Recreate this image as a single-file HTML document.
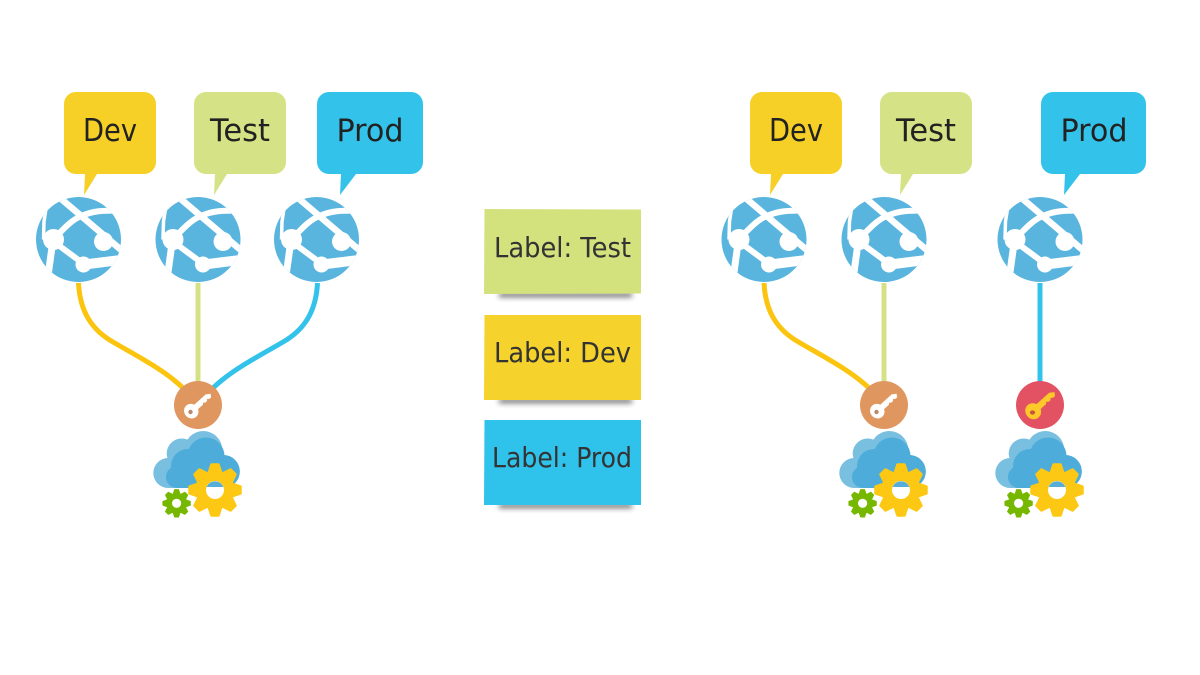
<!DOCTYPE html>
<html><head><meta charset="utf-8"><style>
html,body{margin:0;padding:0;background:#fff;width:1200px;height:675px;overflow:hidden}
svg{display:block}
text{font-family:"DejaVu Sans","Liberation Sans",sans-serif}
</style></head><body>
<svg width="1200" height="675" viewBox="0 0 1200 675" xmlns="http://www.w3.org/2000/svg">
<defs>
<clipPath id="gc"><circle cx="0" cy="0" r="42.5"/></clipPath>
<filter id="b" x="-20%" y="-300%" width="140%" height="700%"><feGaussianBlur stdDeviation="2.6"/></filter>
<g id="globe">
  <circle r="42.5" fill="#59b4de"/>
  <g clip-path="url(#gc)" fill="none" stroke="#fff">
    <path d="M-19 -42 L48 15" stroke-width="6.5"/>
    <path d="M-25 0 C-14 -12 -6 -20 2 -23 C14 -29 24 -29 46 -29" stroke-width="6"/>
    <path d="M-25 2 L6 25" stroke-width="6"/>
    <path d="M6 25 L46 20" stroke-width="10"/>
    <path d="M-31 -40 L-34.5 -18 L-35 0" stroke-width="3.5"/>
    <path d="M-26 4 L-31 40" stroke-width="7"/>
  </g>
  <circle cx="-25" cy="0" r="10.5" fill="#fff"/>
  <circle cx="25" cy="2" r="9.5" fill="#fff"/>
  <circle cx="5" cy="25" r="8" fill="#fff"/>
</g>
<path id="t" d="M-6 -18 L-3.5 -25.5 H3.5 L6 -18Z" stroke-width="2.5" stroke-linejoin="round"/>
<g id="gear">
  <circle r="19.5" stroke="none"/>
  <use href="#t"/><use href="#t" transform="rotate(45)"/><use href="#t" transform="rotate(90)"/><use href="#t" transform="rotate(135)"/>
  <use href="#t" transform="rotate(180)"/><use href="#t" transform="rotate(225)"/><use href="#t" transform="rotate(270)"/><use href="#t" transform="rotate(315)"/>
</g>
<g id="keyshape">
  <path d="M-1 -2.8 H21 L25 0 L23 3 H20.5 L19 1.5 L17.5 3 H15 L13.5 1.5 L12 3 H-1Z"/>
  <ellipse cx="-1" cy="0" rx="7" ry="7.5"/>
</g>
<g id="stack">
  <g fill="#79bfe0">
    <circle cx="168.3" cy="473" r="15"/>
    <circle cx="181.7" cy="453.5" r="15"/>
    <circle cx="203.3" cy="450" r="19"/>
    <circle cx="223.3" cy="471.5" r="16.5"/>
    <rect x="168" y="455" width="56" height="33"/>
  </g>
  <g fill="#4dacd9">
    <circle cx="177" cy="477" r="11"/>
    <circle cx="188" cy="466" r="17"/>
    <circle cx="206" cy="456" r="18.5"/>
    <circle cx="223.3" cy="471.5" r="16.5"/>
    <rect x="177" y="462" width="47" height="26"/>
  </g>
  <use href="#gear" x="215" y="490" fill="#fcc814" stroke="#fcc814"/>
  <circle cx="215" cy="490" r="9" fill="#fff"/>
  <path d="M206.6 487 A9 9 0 0 1 223.4 487Z" fill="#56aed8"/>
  <g transform="translate(176.6 503.3) scale(.53)" fill="#76b800" stroke="#76b800"><use href="#gear"/></g>
  <circle cx="176.6" cy="503.3" r="4.6" fill="#fff"/>
</g>
</defs>

<!-- connectors -->
<g fill="none" stroke-width="5">
  <path d="M78.5 283 C80 312 92 330 113 342 C135 355 165 370 184 389" stroke="#fbc40f"/>
  <path d="M198 283 V382" stroke="#d5e184"/>
  <path d="M317.5 283 C316 312 304 330 283 342 C261 355 231 370 212 389" stroke="#33c3ea"/>
  <path d="M764 283 C765.5 312 777.5 330 798.5 342 C820.5 355 850.5 370 870 389" stroke="#fbc40f"/>
  <path d="M884 283 V382" stroke="#d5e184"/>
  <path d="M1040 283 V382" stroke="#33c3ea"/>
</g>

<!-- callouts -->
<path d="M76 92H144A12 12 0 0 1 156 104V162A12 12 0 0 1 144 174H97L84 195L85 174H76A12 12 0 0 1 64 162V104A12 12 0 0 1 76 92Z" fill="#f6d026"/>
<path d="M206 92H274A12 12 0 0 1 286 104V162A12 12 0 0 1 274 174H227L214 195L215 174H206A12 12 0 0 1 194 162V104A12 12 0 0 1 206 92Z" fill="#d5e285"/>
<path d="M329 92H411A12 12 0 0 1 423 104V162A12 12 0 0 1 411 174H356L340 195L341 174H329A12 12 0 0 1 317 162V104A12 12 0 0 1 329 92Z" fill="#33c3ea"/>
<path d="M762 92H830A12 12 0 0 1 842 104V162A12 12 0 0 1 830 174H783L770 195L771 174H762A12 12 0 0 1 750 162V104A12 12 0 0 1 762 92Z" fill="#f6d026"/>
<path d="M892 92H960A12 12 0 0 1 972 104V162A12 12 0 0 1 960 174H913L900 195L901 174H892A12 12 0 0 1 880 162V104A12 12 0 0 1 892 92Z" fill="#d5e285"/>
<path d="M1053 92H1134A12 12 0 0 1 1146 104V162A12 12 0 0 1 1134 174H1080L1064 195L1065 174H1053A12 12 0 0 1 1041 162V104A12 12 0 0 1 1053 92Z" fill="#33c3ea"/>

<g font-size="31" fill="#222" text-anchor="middle">
  <text x="110" y="141" textLength="54" lengthAdjust="spacingAndGlyphs">Dev</text>
  <text x="240" y="141" textLength="60" lengthAdjust="spacingAndGlyphs">Test</text>
  <text x="370" y="141" textLength="67" lengthAdjust="spacingAndGlyphs">Prod</text>
  <text x="796" y="141" textLength="54" lengthAdjust="spacingAndGlyphs">Dev</text>
  <text x="926" y="141" textLength="60" lengthAdjust="spacingAndGlyphs">Test</text>
  <text x="1094" y="141" textLength="67" lengthAdjust="spacingAndGlyphs">Prod</text>
</g>

<!-- globes -->
<use href="#globe" x="78.5" y="239.5"/>
<use href="#globe" x="198" y="239.5"/>
<use href="#globe" x="316.5" y="239.5"/>
<use href="#globe" x="764" y="239.5"/>
<use href="#globe" x="884" y="239.5"/>
<use href="#globe" x="1040" y="239.5"/>

<!-- stickies -->
<g fill="#222" opacity=".72" filter="url(#b)">
  <rect x="499" y="293" width="133" height="4"/>
  <rect x="499" y="399" width="133" height="4"/>
  <rect x="499" y="504" width="133" height="4"/>
</g>
<path d="M484.5 209 L641 209.5 V293.5 L484 294Z" fill="#d3e27d"/>
<path d="M484.5 315 L641 315 V400 L484 400Z" fill="#f5d32c"/>
<path d="M484.5 420 L641 420 V505 L484 505Z" fill="#2fc2ea"/>
<g font-size="28" fill="#333">
  <text x="494" y="257" textLength="137" lengthAdjust="spacingAndGlyphs">Label: Test</text>
  <text x="494" y="362" textLength="137" lengthAdjust="spacingAndGlyphs">Label: Dev</text>
  <text x="492" y="467" textLength="140" lengthAdjust="spacingAndGlyphs">Label: Prod</text>
</g>

<!-- key badges -->
<circle cx="198" cy="405" r="24" fill="#e0965f"/>
<g transform="translate(192 410.5) rotate(-42)" fill="#fff"><use href="#keyshape"/></g>
<circle cx="190.5" cy="412" r="2.2" fill="#b98a6a"/>
<circle cx="884" cy="405" r="24" fill="#e0965f"/>
<g transform="translate(878 410.5) rotate(-42)" fill="#fff"><use href="#keyshape"/></g>
<circle cx="876.5" cy="412" r="2.2" fill="#b98a6a"/>
<circle cx="1040" cy="405" r="24" fill="#e25263"/>
<g transform="translate(1034 410.5) rotate(-42) scale(1.1)" fill="#fcc82a"><use href="#keyshape"/></g>
<ellipse cx="1032.5" cy="412.5" rx="2.6" ry="2.1" fill="#c8543c"/>

<!-- cloud + gears -->
<use href="#stack"/>
<use href="#stack" x="686"/>
<use href="#stack" x="842"/>
</svg>
</body></html>
